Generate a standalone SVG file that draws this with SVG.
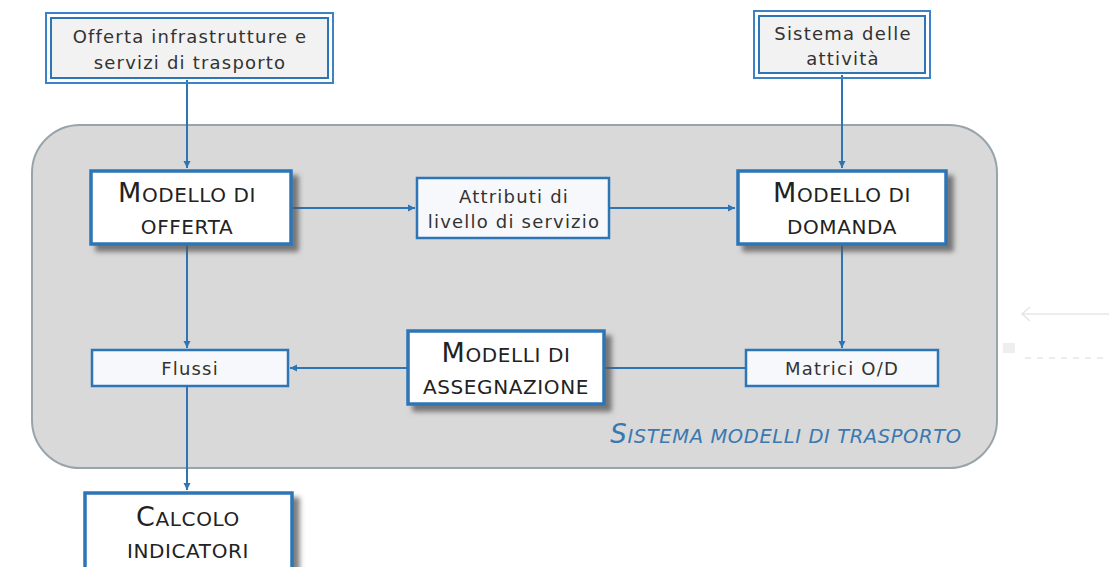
<svg xmlns="http://www.w3.org/2000/svg" width="1109" height="567" viewBox="0 0 1109 567">
<style>
.t{font-family:"DejaVu Sans","Liberation Sans",sans-serif;fill:#333;text-anchor:middle}
.s{font-size:18px;letter-spacing:1.2px}
.b{font-size:20px;fill:#222;letter-spacing:0.6px}
.big{font-size:27px}
.conn{stroke:#2e75b6;stroke-width:2;fill:none}
.outer{fill:none;stroke:#3c82c4;stroke-width:2}
.inner{fill:#f2f2f2;stroke:#2e75b6;stroke-width:2}
.main{fill:#ffffff;stroke:#2e75b6;stroke-width:3.5}
.small{fill:#f7f8fb;stroke:#2e75b6;stroke-width:2.5}
</style>
<defs>
<marker id="ah" markerWidth="8" markerHeight="8" refX="7" refY="4" orient="auto" markerUnits="userSpaceOnUse">
<path d="M0,0.5 L7,4 L0,7.5 Z" fill="#2e75b6"/>
</marker>
<filter id="sh" x="-10%" y="-10%" width="130%" height="140%">
<feDropShadow dx="6" dy="6" stdDeviation="2.5" flood-color="#555" flood-opacity="0.75"/>
</filter>
</defs>
<rect width="1109" height="567" fill="#ffffff"/>
<g id="sistema">
<rect x="32" y="125" width="965" height="343" rx="48" ry="48" fill="#d9d9d9" stroke="#98a4ac" stroke-width="2"/>
<text x="786" y="443" text-anchor="middle" font-family="DejaVu Sans,Liberation Sans,sans-serif" font-style="italic" font-size="19.5" letter-spacing="0.6" fill="#3a78b0"><tspan font-size="26">S</tspan>ISTEMA MODELLI DI TRASPORTO</text>
</g>
<g id="faint" stroke="#e6e6e6" fill="none" stroke-width="1.5">
<path d="M1022,314 L1109,314 M1030,307 L1022,314 L1030,321"/>
<path d="M1025,358 L1109,358" stroke-dasharray="6,6"/>
<rect x="1003" y="343" width="12" height="10" fill="#eeeeee" stroke="none"/>
</g>
<g id="connectors">
<path class="conn" d="M187,80 L187,168" marker-end="url(#ah)"/>
<path class="conn" d="M842,75 L842,168" marker-end="url(#ah)"/>
<path class="conn" d="M292,208 L415,208" marker-end="url(#ah)"/>
<path class="conn" d="M609,208 L735,208" marker-end="url(#ah)"/>
<path class="conn" d="M842,245 L842,348" marker-end="url(#ah)"/>
<path class="conn" d="M187,245 L187,348" marker-end="url(#ah)"/>
<path class="conn" d="M746,368 L605,368"/>
<path class="conn" d="M407,368 L290,368" marker-end="url(#ah)"/>
<path class="conn" d="M187,386 L187,490" marker-end="url(#ah)"/>
</g>
<g id="offerta-infra">
<rect class="outer" x="46" y="13" width="287" height="70"/>
<rect class="inner" x="51" y="18" width="277" height="60"/>
<text class="t s" x="190" y="43">Offerta infrastrutture e</text>
<text class="t s" x="190" y="69">servizi di trasporto</text>
</g>
<g id="sistema-attivita">
<rect class="outer" x="754" y="11" width="176" height="67"/>
<rect class="inner" x="759" y="16" width="166" height="57"/>
<text class="t s" x="843" y="40">Sistema delle</text>
<text class="t s" x="843" y="65">attività</text>
</g>
<g id="modello-offerta">
<rect class="main" x="91" y="171" width="200" height="73" filter="url(#sh)"/>
<text class="t b" x="187" y="202"><tspan class="big">M</tspan>ODELLO DI</text>
<text class="t b" x="187" y="234">OFFERTA</text>
</g>
<g id="attributi">
<rect class="small" x="417" y="178" width="192" height="60"/>
<text class="t s" x="514" y="203">Attributi di</text>
<text class="t s" x="514" y="228">livello di servizio</text>
</g>
<g id="modello-domanda">
<rect class="main" x="738" y="171" width="208" height="73" filter="url(#sh)"/>
<text class="t b" x="842" y="202"><tspan class="big">M</tspan>ODELLO DI</text>
<text class="t b" x="842" y="234">DOMANDA</text>
</g>
<g id="matrici">
<rect class="small" x="746" y="350" width="192" height="36"/>
<text class="t s" x="842" y="375">Matrici O/D</text>
</g>
<g id="assegnazione">
<rect class="main" x="408" y="331" width="196" height="73" filter="url(#sh)"/>
<text class="t b" x="506" y="362"><tspan class="big">M</tspan>ODELLI DI</text>
<text class="t b" x="506" y="394">ASSEGNAZIONE</text>
</g>
<g id="flussi">
<rect class="small" x="92" y="350" width="196" height="36"/>
<text class="t s" x="190" y="375">Flussi</text>
</g>
<g id="calcolo">
<rect class="main" x="85" y="493" width="207" height="80" filter="url(#sh)"/>
<text class="t b" x="188" y="526"><tspan class="big">C</tspan>ALCOLO</text>
<text class="t b" x="188" y="558">INDICATORI</text>
</g>
</svg>
